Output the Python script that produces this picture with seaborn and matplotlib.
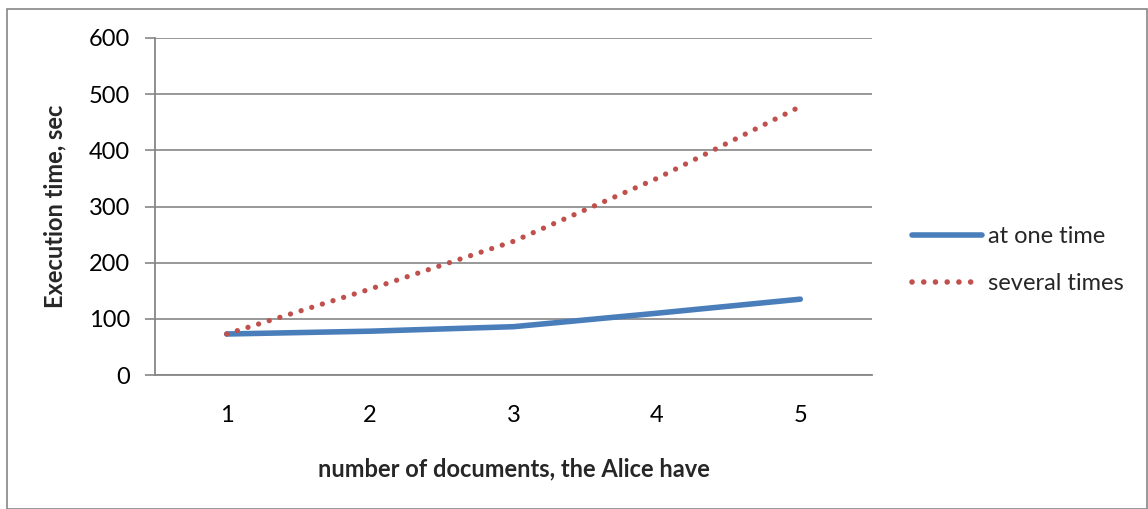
import matplotlib
matplotlib.use("Agg")
import matplotlib.pyplot as plt
import seaborn as sns
import pandas as pd
from matplotlib.patches import Rectangle

# Execution time by number of documents
documents = ["1", "2", "3", "4", "5"]
at_one_time = [73, 78, 86, 110, 135]
several_times = [73, 153, 238, 350, 478]
series_names = ["at one time", "several times"]
y_ticks = [0, 100, 200, 300, 400, 500, 600]

df = pd.DataFrame({
    "documents": documents * 2,
    "time": at_one_time + several_times,
    "series": [series_names[0]] * len(documents) + [series_names[1]] * len(documents),
})

sns.set_theme(style="white")
plt.rcParams["font.family"] = ["Lato", "DejaVu Sans"]
FS = 17

fig = plt.figure(figsize=(11.48, 5.09), dpi=100)
ax = fig.add_axes([155 / 1148, 1 - 375 / 509, (872 - 155) / 1148, (375 - 38) / 509])

sns.lineplot(data=df, x="documents", y="time", hue="series", style="series",
             palette=["#4a7ebb", "#c0504d"],
             dashes={series_names[0]: "", series_names[1]: (0.01, 2.1)},
             linewidth=4, ax=ax, sort=False)

lines = ax.get_lines()
for line in lines:
    line.set_solid_capstyle("round")
    line.set_dash_capstyle("round")
# dotted series: round dots
lines[1].set_linewidth(3.8)

ax.set_xlim(-0.5, 4.5)
ax.set_ylim(0, 600)
ax.set_yticks(y_ticks)
ax.yaxis.grid(True, color="#868686", linewidth=1.2)
ax.set_axisbelow(True)
for side in ["top", "right"]:
    ax.spines[side].set_visible(False)
for side in ["left", "bottom"]:
    ax.spines[side].set_color("#868686")
    ax.spines[side].set_linewidth(1.3)
ax.tick_params(axis="y", which="both", left=True, length=7, width=1.2,
               color="#868686", labelsize=FS, pad=11, labelcolor="black")
ax.tick_params(axis="x", bottom=False, labelsize=FS, pad=15.5, labelcolor="black")

ax.set_xlabel("number of documents, the Alice have", fontsize=FS,
              fontweight="bold", labelpad=23)
ax.set_ylabel("Execution time, sec", fontsize=FS, fontweight="bold", labelpad=16)

handles, labels = ax.get_legend_handles_labels()
for h in handles:
    h.set_dash_capstyle("round")
    h.set_solid_capstyle("round")
leg = ax.legend(handles, labels, loc="center left", bbox_to_anchor=(1.0266, 0.34),
                frameon=False, fontsize=FS, handlelength=2.96, handletextpad=0.25,
                labelspacing=1.1)

# chart frame
fig.patches.append(Rectangle((7 / 1148, 0), 1 - 8 / 1148, 1 - 9 / 509,
                             transform=fig.transFigure, fill=False,
                             edgecolor="#868686", linewidth=1.2))

fig.savefig("out.png", dpi=100)
